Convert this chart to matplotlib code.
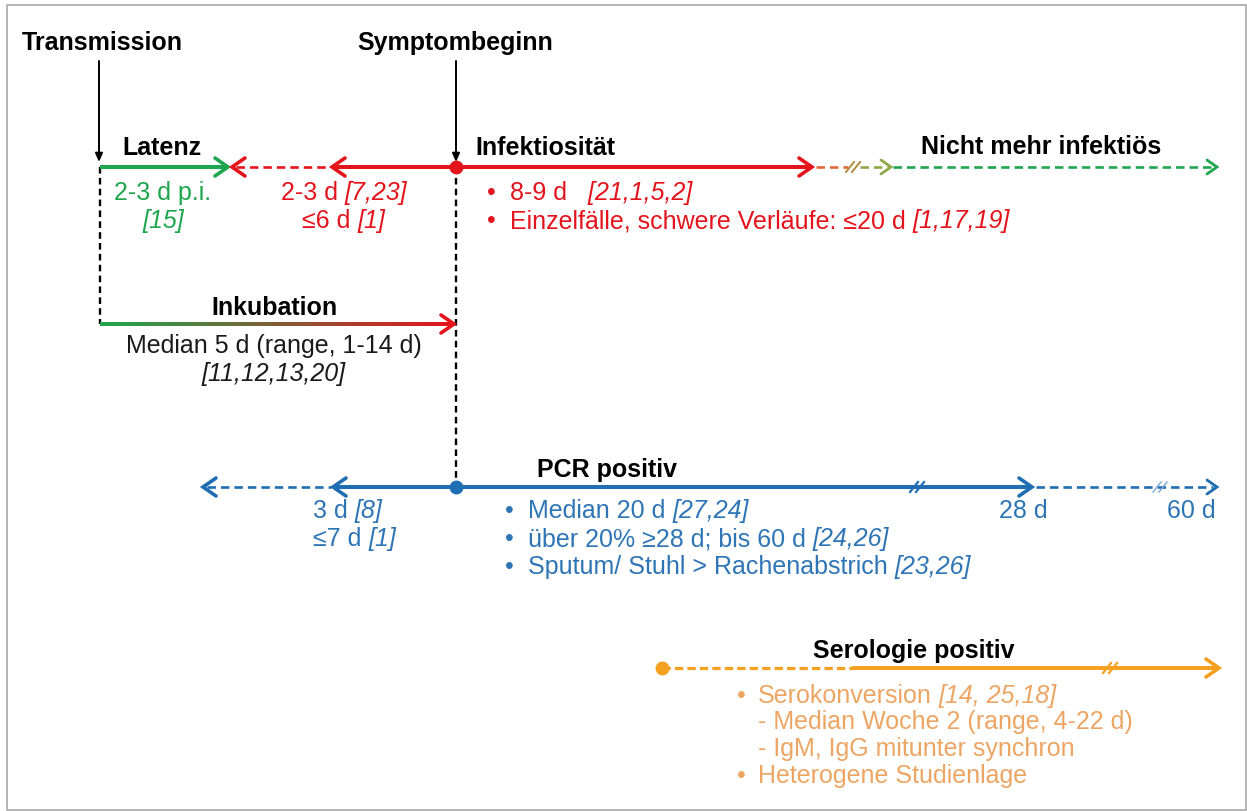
import numpy as np
import matplotlib
matplotlib.use("Agg")
import matplotlib.pyplot as plt
from matplotlib.collections import LineCollection
from matplotlib.colors import to_rgb
from matplotlib.patches import Rectangle

plt.rcParams["font.family"] = ["Liberation Sans", "DejaVu Sans"]

W, H = 1247, 811
FS = 18

GREEN = "#1ea64e"
RED = "#e3141c"
BLUE = "#1f6db3"
BLUE_TXT = "#2e75b6"
ORANGE = "#f4a020"
ORANGE_TXT = "#eca563"
OLIVE = "#8fa84a"
RUST = "#e2683a"

# --- texts (each line: list of (text, italic)) ---
event_labels = ["Transmission", "Symptombeginn"]
phase_titles = ["Latenz", "Infektiosität", "Nicht mehr infektiös",
                "Inkubation", "PCR positiv", "Serologie positiv"]
latenz_text = [[("2-3 d p.i.", False)], [("[15]", True)]]
presympt_text = [[("2-3 d", False), ("[7,23]", True)],
                 [("≤6 d", False), ("[1]", True)]]
infekt_bullets = [[("8-9 d", False), ("  [21,1,5,2]", True)],
                  [("Einzelfälle, schwere Verläufe: ≤20 d", False), ("[1,17,19]", True)]]
inkub_text = [[("Median 5 d (range, 1-14 d)", False)], [("[11,12,13,20]", True)]]
pcr_pre_text = [[("3 d", False), ("[8]", True)],
                [("≤7 d", False), ("[1]", True)]]
pcr_bullets = [[("Median 20 d", False), ("[27,24]", True)],
               [("über 20% ≥28 d; bis 60 d", False), ("[24,26]", True)],
               [("Sputum/ Stuhl > Rachenabstrich", False), ("[23,26]", True)]]
pcr_ticks = ["28 d", "60 d"]
sero_bullets = ["•", "", "", "•"]
sero_lines = [[("Serokonversion", False), ("[14, 25,18]", True)],
              [("- Median Woche 2 (range, 4-22 d)", False)],
              [("- IgM, IgG mitunter synchron", False)],
              [("Heterogene Studienlage", False)]]

fig = plt.figure(figsize=(W / 100, H / 100), dpi=100)
ax = fig.add_axes([0, 0, 1, 1])
ax.set_xlim(0, W)
ax.set_ylim(H, 0)
ax.axis("off")
renderer = fig.canvas.get_renderer()
SPACE = 0.27 * FS * 100 / 72


def rich(x, y, parts, color, ha="left", fs=FS):
    arts = [ax.text(0, y, s, color=color, fontsize=fs,
                    style="italic" if it else "normal", va="baseline")
            for s, it in parts]
    widths = [a.get_window_extent(renderer).width for a in arts]
    total = sum(widths) + SPACE * (len(arts) - 1)
    x0 = x - total / 2 if ha == "center" else x
    for a, w in zip(arts, widths):
        a.set_x(x0)
        x0 += w + SPACE


def title(x, y, s, ha="left"):
    ax.text(x, y, s, fontsize=FS, weight="bold", color="black", ha=ha, va="baseline")


def head(x, y, d, color, lw=2.6, L=13, hw=9):
    ax.plot([x - d * L, x, x - d * L], [y - hw, y, y + hw], color=color, lw=lw,
            solid_capstyle="round", solid_joinstyle="miter")


def seg(x0, x1, y, color, dashed=False, lw=None, dash=(3.2, 1.9)):
    if dashed:
        ax.plot([x0, x1], [y, y], color=color, lw=lw or 1.9, ls=(0, dash))
    else:
        ax.plot([x0, x1], [y, y], color=color, lw=lw or 2.9, solid_capstyle="butt")


def brk(x, y, color, lw=1.5):
    for dx in (-3, 3):
        ax.plot([x + dx - 4, x + dx + 4], [y + 5, y - 5], color=color, lw=lw)


def dot(x, y, color):
    ax.plot([x], [y], "o", ms=9, color=color, zorder=5)


# frame
ax.add_patch(Rectangle((7, 5), 1239, 805, fill=False, ec="#a8a8a8", lw=1.2))

# event markers
for xc, lab in zip([102, 455], event_labels):
    title(xc, 50, lab, ha="center")
for xa in [99, 456]:
    ax.annotate("", xy=(xa, 162), xytext=(xa, 61),
                arrowprops=dict(arrowstyle="-|>,head_length=0.5,head_width=0.22",
                                color="black", lw=1.4, shrinkA=0, shrinkB=0))

# dashed verticals
ax.plot([100, 100], [167, 324], color="black", lw=1.7, ls=(0, (2.8, 1.8)))
ax.plot([456, 456], [167, 487], color="black", lw=1.7, ls=(0, (2.8, 1.8)))

# --- top row: latency / infectivity ---
Y1 = 167
seg(100, 226, Y1, GREEN)
head(228, Y1, 1, GREEN)
seg(236, 330, Y1, RED, dashed=True)
head(232, Y1, -1, RED)
seg(334, 456, Y1, RED)
head(332, Y1, -1, RED)
seg(456, 810, Y1, RED)
head(812, Y1, 1, RED)
seg(816, 848, Y1, RUST, dashed=True)
brk(853, Y1, "#b08a3c", lw=1.4)
seg(860, 888, Y1, OLIVE, dashed=True)
head(891, Y1, 1, OLIVE, lw=2.0, L=10, hw=7)
seg(893, 1214, Y1, GREEN, dashed=True)
head(1217, Y1, 1, GREEN, lw=2.0, L=10, hw=7)
dot(456, Y1, RED)

title(162, 155, phase_titles[0], ha="center")
title(475, 155, phase_titles[1])
title(1041, 154, phase_titles[2], ha="center")

for i, line in enumerate(latenz_text):
    rich(163, 200 + 28 * i, line, GREEN, ha="center")
for i, line in enumerate(presympt_text):
    rich(344, 200 + 28 * i, line, RED, ha="center")
for i, line in enumerate(infekt_bullets):
    ax.text(487, 200 + 28 * i, "•", color=RED, fontsize=FS, va="baseline")
    rich(510, 200 + 28 * i, line, RED)

# --- incubation ---
Y2 = 324
xs = np.linspace(100, 452, 120)
pts = np.array([xs, np.full_like(xs, Y2)]).T.reshape(-1, 1, 2)
segs = np.concatenate([pts[:-1], pts[1:]], axis=1)
g, r = np.array(to_rgb(GREEN)), np.array(to_rgb(RED))
t = np.linspace(0, 1, len(segs))[:, None]
ax.add_collection(LineCollection(segs, colors=g * (1 - t) + r * t, lw=2.9))
head(454, Y2, 1, RED)
title(274, 315, phase_titles[3], ha="center")
for i, line in enumerate(inkub_text):
    rich(274, 353 + 28 * i, line, "#1a1a1a", ha="center")

# --- PCR ---
Y3 = 487
seg(207, 331, Y3, BLUE, dashed=True)
head(203, Y3, -1, BLUE)
seg(335, 456, Y3, BLUE)
head(333, Y3, -1, BLUE)
seg(456, 1030, Y3, BLUE)
head(1032, Y3, 1, BLUE)
brk(917, Y3, BLUE, lw=1.6)
seg(1036, 1213, Y3, BLUE, dashed=True)
brk(1160, Y3, "#7aa6d6", lw=1.0)
head(1217, Y3, 1, BLUE, lw=2.0, L=10, hw=7)
dot(456, Y3, BLUE)
title(537, 477, phase_titles[4])
for i, line in enumerate(pcr_pre_text):
    rich(313, 518 + 28 * i, line, BLUE_TXT)
for i, line in enumerate(pcr_bullets):
    ax.text(505, 518 + 28 * i, "•", color=BLUE_TXT, fontsize=FS, va="baseline")
    rich(528, 518 + 28 * i, line, BLUE_TXT)
for xc, lab in zip([1023, 1191], pcr_ticks):
    ax.text(xc, 518, lab, color=BLUE_TXT, fontsize=FS, ha="center", va="baseline")

# --- serology ---
Y4 = 668
seg(662, 852, Y4, ORANGE, dashed=True, lw=2.3, dash=(2.6, 1.3))
seg(852, 1216, Y4, ORANGE)
head(1219, Y4, 1, ORANGE)
brk(1110, Y4, ORANGE, lw=1.6)
dot(662, Y4, ORANGE)
title(914, 658, phase_titles[5], ha="center")
for i, (b, line) in enumerate(zip(sero_bullets, sero_lines)):
    yy = 703 + 26.5 * i
    if b:
        ax.text(737, yy, b, color=ORANGE_TXT, fontsize=FS, va="baseline")
    rich(758, yy, line, ORANGE_TXT)

fig.savefig("out.png", dpi=100)
